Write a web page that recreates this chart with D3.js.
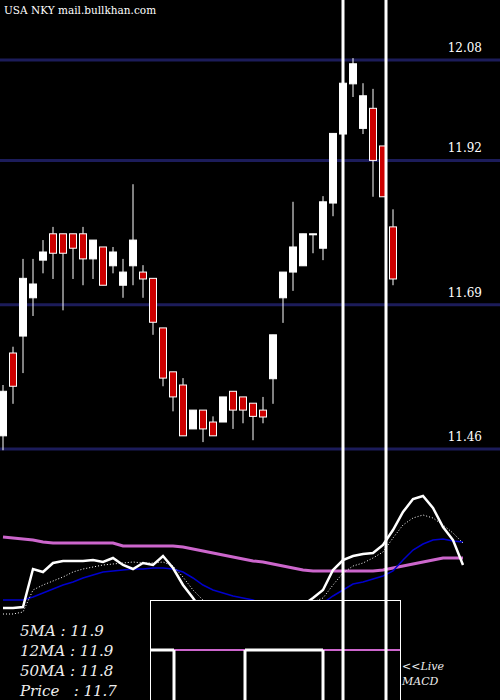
<!DOCTYPE html>
<html><head><meta charset="utf-8">
<script src="https://cdn.jsdelivr.net/npm/d3@7"></script>
<style>body{margin:0;background:#000}svg{display:block}</style>
</head><body>
<div id="chart"></div>
<script>
// candles: [open, high, low, close]
const candles = [
  [11.481,11.562,11.458,11.552],[11.613,11.623,11.532,11.560],[11.640,11.763,11.581,11.732],
  [11.701,11.763,11.672,11.723],[11.761,11.793,11.740,11.774],[11.803,11.814,11.731,11.772],
  [11.803,11.803,11.681,11.772],[11.803,11.803,11.731,11.780],[11.803,11.814,11.721,11.763],
  [11.763,11.793,11.731,11.793],[11.782,11.782,11.721,11.721],[11.752,11.782,11.740,11.774],
  [11.721,11.763,11.701,11.742],[11.752,11.882,11.721,11.793],[11.742,11.753,11.701,11.731],
  [11.732,11.732,11.642,11.662],[11.653,11.653,11.560,11.573],[11.583,11.583,11.520,11.543],
  [11.562,11.573,11.481,11.481],[11.492,11.522,11.492,11.522],[11.522,11.522,11.471,11.492],
  [11.503,11.512,11.481,11.481],[11.503,11.543,11.503,11.543],[11.552,11.552,11.492,11.522],
  [11.543,11.543,11.501,11.522],[11.533,11.533,11.474,11.512],[11.522,11.543,11.501,11.511],
  [11.572,11.642,11.532,11.642],[11.701,11.742,11.661,11.742],[11.742,11.854,11.712,11.782],
  [11.752,11.803,11.752,11.803],[11.803,11.803,11.772,11.803],[11.780,11.863,11.761,11.854],
  [11.852,11.963,11.831,11.963],[11.962,12.043,11.962,12.043],[12.042,12.083,12.021,12.074],
  [11.971,12.043,11.962,12.023],[12.003,12.034,11.862,11.920],[11.943,11.943,11.862,11.862],
  [11.814,11.842,11.721,11.731]
];
const priceTicks = [12.08, 11.92, 11.69, 11.46];
const markers = [34, 38.3];
// lower panel (relative units)
const macdLine = [-8,-8,-7,31,28,37,39,39,39,40,38,42,35,31,37,35,44,32,15,2,-12,-20,-25,-28,-30,-30,-28,-25,-20,-12,-5,2,10,30,40,44,46,47,55,70,88,101,104,92,73,60,35];
const signalLine = [0,0,0,3,7,11,15,18,22,25,28,29,30,31,31,32,32,31,28,22,15,10,7,4,2,0,-4,-4,-4,-4,-4,-4,-3,4,10,16,18,21,24,29,40,50,56,60,61,59,58];
const dotLine = [-14,-14,-12,10,15,19,23,28,31,33,35,36,37,38,37,37,38,34,23,10,0,-5,-5,-5,-5,-5,-5,-5,-5,-5,-5,-2,2,15,27,34,37,42,48,62,75,82,85,82,75,67,57];
const ma50Line = [63,62,61,60,58,57,57,57,57,57,57,57,54,54,54,54,54,54,53,51,49,47,45,43,41,39,38,36,34,32,30,29,29,29,29,29,29,29,30,32,34,36,38,40,42,42,42];
const legend = ["5MA : 11.9", "12MA : 11.9", "50MA : 11.8", "Price   : 11.7"];

const W = 500, H = 700;
const svg = d3.select("#chart").append("svg").attr("width", W).attr("height", H)
  .style("background", "#000");

const x = d3.scaleLinear().domain([0, 46]).range([3, 463]);
const y = d3.scaleLinear().domain([11.46, 12.08]).range([449, 60]);
const m = d3.scaleLinear().domain([0, 100]).range([600, 500]);

// grid
svg.selectAll("line.grid").data(priceTicks).join("line")
  .attr("x1", 0).attr("x2", W).attr("y1", d => y(d)).attr("y2", d => y(d))
  .attr("stroke", "#1c1c5a").attr("stroke-width", 3);
svg.selectAll("text.tick").data(priceTicks).join("text")
  .attr("x", 482).attr("y", d => y(d) - 8).attr("text-anchor", "end")
  .attr("fill", "#fff").attr("font-family", "DejaVu Serif").attr("font-size", 12)
  .text(d => d.toFixed(2));

svg.append("text").attr("x", 4).attr("y", 14).attr("fill", "#fff")
  .attr("font-family", "DejaVu Serif").attr("font-size", 10.5).text("USA NKY mail.bullkhan.com");

// candles
const g = svg.append("g");
g.selectAll("line.wick").data(candles).join("line")
  .attr("x1", (d, i) => x(i)).attr("x2", (d, i) => x(i))
  .attr("y1", d => y(d[1])).attr("y2", d => y(d[2]))
  .attr("stroke", "#fff").attr("stroke-width", 1);
g.selectAll("rect.body").data(candles).join("rect")
  .attr("x", (d, i) => x(i) - 3.5).attr("width", 7)
  .attr("y", d => y(Math.max(d[0], d[3])))
  .attr("height", d => Math.max(1, Math.abs(y(d[0]) - y(d[3]))))
  .attr("fill", d => d[3] >= d[0] ? "#fff" : "#cc0000")
  .attr("stroke", "#fff").attr("stroke-width", 1);

// lower panel lines
const line = d3.line().x((d, i) => x(i)).y(d => m(d));
svg.append("path").datum(ma50Line).attr("d", line).attr("fill", "none")
  .attr("stroke", "#cc66cc").attr("stroke-width", 3);
svg.append("path").datum(signalLine).attr("d", line).attr("fill", "none")
  .attr("stroke", "#0000cc").attr("stroke-width", 1.5);
svg.append("path").datum(dotLine).attr("d", line).attr("fill", "none")
  .attr("stroke", "#fff").attr("stroke-width", 1).attr("stroke-dasharray", "1,2");
svg.append("path").datum(macdLine).attr("d", line).attr("fill", "none")
  .attr("stroke", "#fff").attr("stroke-width", 2.5);

// box
svg.append("rect").attr("x", 150.5).attr("y", 600.5).attr("width", 250).attr("height", 110)
  .attr("fill", "#000").attr("stroke", "#fff");
const steps = [[150, 174, "#fff"], [174, 245, "#cc66cc"], [245, 323, "#fff"], [323, 400, "#cc66cc"]];
svg.selectAll("line.step").data(steps).join("line")
  .attr("x1", d => d[0]).attr("x2", d => d[1]).attr("y1", 650).attr("y2", 650)
  .attr("stroke", d => d[2]).attr("stroke-width", d => d[2] === "#fff" ? 3 : 2);
svg.selectAll("line.stepv").data([174, 245, 323]).join("line")
  .attr("x1", d => d).attr("x2", d => d).attr("y1", 650).attr("y2", 700)
  .attr("stroke", "#fff").attr("stroke-width", 3);

// vertical markers
svg.selectAll("line.vmark").data(markers).join("line")
  .attr("x1", d => x(d)).attr("x2", d => x(d)).attr("y1", 0).attr("y2", H)
  .attr("stroke", "#fff").attr("stroke-width", 3);

// legend
svg.selectAll("text.leg").data(legend).join("text")
  .attr("x", 20).attr("y", (d, i) => 636 + i * 20)
  .attr("fill", "#eee").attr("font-family", "DejaVu Serif").attr("font-style", "italic")
  .attr("font-size", 15).attr("xml:space", "preserve").style("white-space", "pre").text(d => d);
svg.selectAll("text.live").data(["<<Live", "MACD"]).join("text")
  .attr("x", 402).attr("y", (d, i) => 670 + i * 15)
  .attr("fill", "#eee").attr("font-family", "DejaVu Serif").attr("font-style", "italic")
  .attr("font-size", 11).text(d => d);
</script>
</body></html>
